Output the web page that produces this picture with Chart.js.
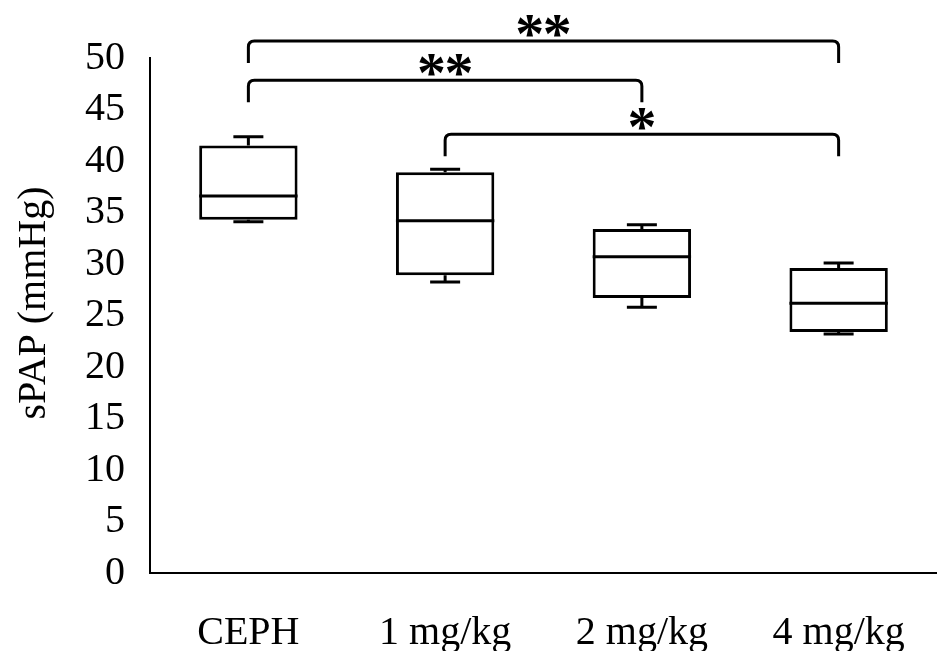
<!DOCTYPE html>
<html>
<head>
<meta charset="utf-8">
<script src="https://cdn.jsdelivr.net/npm/chart.js@4.4.1/dist/chart.umd.min.js"></script>
<style>
  html, body { margin: 0; padding: 0; background: #fff; }
  #wrap { width: 937px; height: 651px; position: relative; }
</style>
</head>
<body>
<div id="wrap"><canvas id="c" width="937" height="651"></canvas></div>
<script>
// ---- data ----
const categories = ['CEPH', '1 mg/kg', '2 mg/kg', '4 mg/kg'];
const whiskerMin = [34.1, 28.25, 25.8, 23.2];
const q1         = [34.3, 28.9, 26.7, 23.4];
const median     = [36.6, 34.2, 30.7, 26.2];
const q3         = [41.5, 38.9, 33.4, 29.6];
const whiskerMax = [42.35, 39.2, 33.8, 30.1];

// significance brackets
const bracketFrom  = [0, 0, 1];
const bracketTo    = [3, 2, 3];
const bracketLevel = [51.65, 47.85, 42.6];
const bracketLabel = ['**', '**', '*'];

const yTicks = [0, 5, 10, 15, 20, 25, 30, 35, 40, 45, 50];
const yTitle = 'sPAP (mmHg)';

const FONT = "'Liberation Serif', 'Times New Roman', serif";

const boxData = categories.map((c, i) => [q1[i], q3[i]]);

const boxPlugin = {
  id: 'boxExtras',
  afterDatasetsDraw(chart) {
    const ctx = chart.ctx;
    const xs = chart.scales.x, ys = chart.scales.y;
    const meta = chart.getDatasetMeta(0);
    ctx.save();
    ctx.strokeStyle = '#000';
    ctx.lineWidth = 3;
    ctx.lineCap = 'butt';
    categories.forEach((c, i) => {
      const bar = meta.data[i];
      const cx = bar.x;
      const half = bar.width / 2;
      const capHalf = 15;
      const ym = ys.getPixelForValue(median[i]);
      ctx.beginPath();
      ctx.moveTo(cx - half, ym);
      ctx.lineTo(cx + half, ym);
      ctx.stroke();
      const yq3 = ys.getPixelForValue(q3[i]);
      const ymax = ys.getPixelForValue(whiskerMax[i]);
      ctx.beginPath();
      ctx.moveTo(cx, yq3);
      ctx.lineTo(cx, ymax);
      ctx.moveTo(cx - capHalf, ymax);
      ctx.lineTo(cx + capHalf, ymax);
      ctx.stroke();
      const yq1 = ys.getPixelForValue(q1[i]);
      const ymin = ys.getPixelForValue(whiskerMin[i]);
      ctx.beginPath();
      ctx.moveTo(cx, yq1);
      ctx.lineTo(cx, ymin);
      ctx.moveTo(cx - capHalf, ymin);
      ctx.lineTo(cx + capHalf, ymin);
      ctx.stroke();
    });

    // star size: scale font so the asterisk glyph is ~22px tall
    ctx.font = 'bold 100px ' + FONT;
    const m = ctx.measureText('*');
    const gh = m.actualBoundingBoxAscent + m.actualBoundingBoxDescent;
    const starSize = 100 * 22 / gh;
    ctx.font = 'bold ' + starSize + 'px ' + FONT;
    const m2 = ctx.measureText('*');
    const starMid = (m2.actualBoundingBoxAscent - m2.actualBoundingBoxDescent) / 2;

    const drop = 22, r = 6;
    ctx.lineJoin = 'round';
    bracketFrom.forEach((f, k) => {
      const x1 = xs.getPixelForValue(f);
      const x2 = xs.getPixelForValue(bracketTo[k]);
      const yt = ys.getPixelForValue(bracketLevel[k]);
      const yb = yt + drop;
      ctx.beginPath();
      ctx.moveTo(x1, yb);
      ctx.lineTo(x1, yt + r);
      ctx.quadraticCurveTo(x1, yt, x1 + r, yt);
      ctx.lineTo(x2 - r, yt);
      ctx.quadraticCurveTo(x2, yt, x2, yt + r);
      ctx.lineTo(x2, yb);
      ctx.stroke();
      ctx.fillStyle = '#000';
      ctx.textAlign = 'center';
      ctx.textBaseline = 'alphabetic';
      const n = bracketLabel[k].length;
      const mid = (x1 + x2) / 2;
      const gap = 27.5;
      const cy = yt - 15;
      for (let j = 0; j < n; j++) {
        const sx = mid + (j - (n - 1) / 2) * gap;
        ctx.fillText('*', sx, cy + starMid);
      }
    });

    // y-axis title
    ctx.save();
    ctx.translate(34, 303);
    ctx.rotate(-Math.PI / 2);
    ctx.font = '40px ' + FONT;
    ctx.textAlign = 'center';
    ctx.textBaseline = 'middle';
    ctx.fillText(yTitle, 0, 0);
    ctx.restore();

    ctx.restore();
  }
};

new Chart(document.getElementById('c'), {
  type: 'bar',
  data: {
    labels: categories,
    datasets: [{
      data: boxData,
      backgroundColor: '#fff',
      borderColor: '#000',
      borderWidth: 3,
      borderSkipped: false,
      barPercentage: 0.5,
      categoryPercentage: 1.0
    }]
  },
  options: {
    responsive: false,
    animation: false,
    devicePixelRatio: 1,
    layout: { padding: { top: 58, right: 0, left: 0, bottom: 0 } },
    plugins: { legend: { display: false }, tooltip: { enabled: false } },
    scales: {
      x: {
        grid: { display: false },
        border: { display: true, color: '#000', width: 2 },
        ticks: { color: '#000', font: { family: FONT, size: 40 }, padding: 28, maxRotation: 0 },
        afterFit(s) { s.height = 78; }
      },
      y: {
        min: 0, max: 50,
        afterBuildTicks(s) { s.ticks = yTicks.map(v => ({ value: v })); },
        grid: { display: false },
        border: { display: true, color: '#000', width: 2 },
        ticks: { color: '#000', font: { family: FONT, size: 40 }, padding: 17 },
        title: { display: false },
        afterFit(s) { s.width = 150; }
      }
    }
  },
  plugins: [boxPlugin]
});
</script>
</body>
</html>
